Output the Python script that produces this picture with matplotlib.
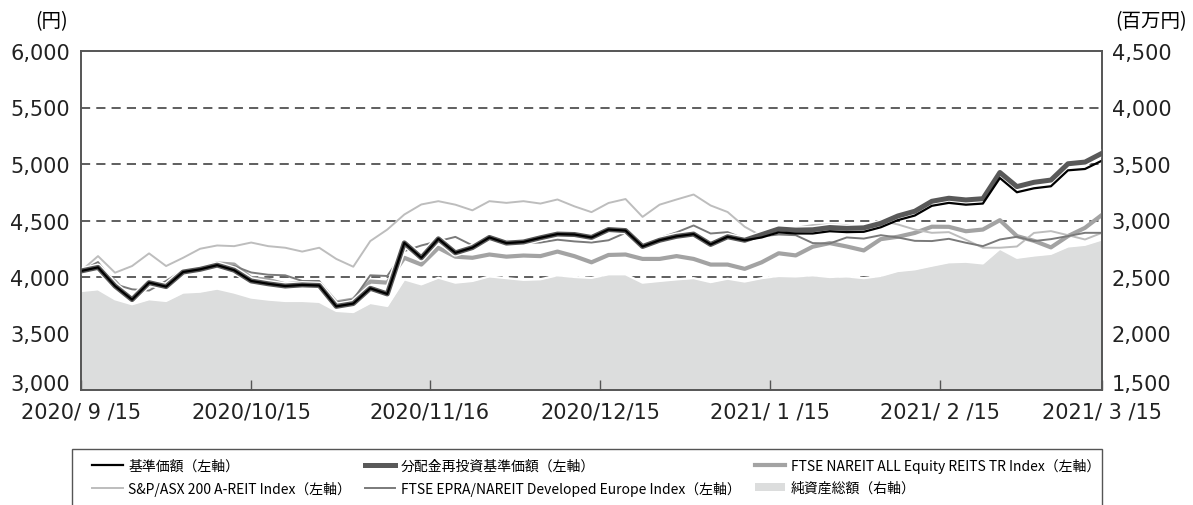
import numpy as np
import matplotlib
matplotlib.use("Agg")
import matplotlib.pyplot as plt
import matplotlib.patheffects as pe
import matplotlib.transforms as mtransforms
from matplotlib.lines import Line2D
from matplotlib.patches import Patch, Rectangle

plt.rcParams['font.family'] = ['Noto Sans CJK JP', 'DejaVu Sans']

# trading-day index (every other business day, 2020/9/15 .. 2021/3/15)
day_idx = np.arange(0, 121, 2)

tick_pos = [0, 20, 41, 61, 81, 101, 120]
tick_labels = ['2020/ 9 /15', '2020/10/15', '2020/11/16', '2020/12/15',
               '2021/ 1 /15', '2021/ 2 /15', '2021/ 3 /15']

# 基準価額 (left axis, yen)
nav = [4053, 4085, 3920, 3800, 3950, 3915, 4044, 4068, 4105, 4060,
       3965, 3940, 3920, 3930, 3925, 3740, 3765, 3900, 3850, 4302,
       4170, 4338, 4214, 4260, 4350, 4300, 4310, 4347, 4380, 4376,
       4350, 4420, 4411, 4270, 4325, 4360, 4380, 4288, 4356, 4325,
       4350, 4395, 4385, 4385, 4405, 4397, 4400, 4440, 4503, 4544,
       4630, 4656, 4640, 4650, 4876, 4750, 4785, 4803, 4944, 4956,
       5030]

# 分配金再投資基準価額
nav_reinv = [4053, 4085, 3920, 3800, 3950, 3915, 4044, 4068, 4105, 4060,
             3965, 3940, 3920, 3930, 3925, 3740, 3765, 3900, 3850, 4302,
             4170, 4338, 4214, 4260, 4350, 4300, 4310, 4347, 4380, 4376,
             4350, 4420, 4411, 4270, 4325, 4360, 4380, 4288, 4356, 4325,
             4375, 4425, 4415, 4418, 4438, 4430, 4435, 4475, 4540, 4582,
             4670, 4697, 4682, 4693, 4925, 4800, 4838, 4858, 5002, 5017,
             5095]

# FTSE NAREIT ALL Equity REITS TR Index
us_reit = [4050, 4080, 3960, 3790, 3930, 3920, 4030, 4075, 4120, 4110,
           3990, 3975, 3935, 3950, 3945, 3775, 3800, 3960, 3950, 4170,
           4110, 4258, 4180, 4170, 4199, 4180, 4190, 4185, 4225, 4184,
           4130, 4195, 4199, 4160, 4160, 4185, 4160, 4110, 4110, 4072,
           4130, 4210, 4191, 4268, 4300, 4270, 4235, 4335, 4356, 4390,
           4445, 4444, 4405, 4420, 4503, 4362, 4320, 4262, 4362, 4435,
           4550]

# S&P/ASX 200 A-REIT Index
au_reit = [4053, 4185, 4038, 4097, 4209, 4097, 4170, 4250, 4279, 4273,
           4305, 4273, 4259, 4225, 4259, 4160, 4091, 4318, 4420, 4553,
           4642, 4671, 4640, 4590, 4671, 4656, 4671, 4650, 4686, 4625,
           4574, 4655, 4690, 4532, 4640, 4686, 4730, 4633, 4575, 4445,
           4362, 4400, 4435, 4460, 4465, 4460, 4425, 4500, 4465, 4420,
           4391, 4397, 4330, 4259, 4259, 4270, 4390, 4406, 4370, 4332,
           4391]

# FTSE EPRA/NAREIT Developed Europe Index
eu_reit = [4053, 4132, 3935, 3891, 3880, 3965, 4060, 4068, 4082, 4097,
           4040, 4020, 4015, 3965, 3965, 3774, 3800, 4015, 4009, 4229,
           4279, 4317, 4355, 4280, 4325, 4325, 4302, 4305, 4330, 4315,
           4305, 4325, 4391, 4267, 4345, 4395, 4456, 4385, 4397, 4338,
           4360, 4376, 4370, 4300, 4297, 4350, 4340, 4370, 4350, 4320,
           4318, 4338, 4303, 4273, 4332, 4356, 4318, 4335, 4362, 4391,
           4391]

# 純資産総額 (right axis, million yen)
net_assets = [2376, 2391, 2303, 2259, 2303, 2288, 2362, 2370, 2397, 2362,
              2318, 2300, 2288, 2288, 2280, 2200, 2190, 2270, 2244, 2479,
              2435, 2494, 2450, 2465, 2505, 2490, 2475, 2480, 2515, 2500,
              2492, 2524, 2524, 2450, 2465, 2479, 2490, 2455, 2485, 2460,
              2490, 2509, 2505, 2515, 2500, 2505, 2490, 2510, 2553, 2568,
              2600, 2630, 2635, 2620, 2750, 2670, 2690, 2705, 2770, 2785,
              2832]

W, H = 1193, 506
fig = plt.figure(figsize=(W / 100, H / 100), dpi=100)
ax = fig.add_axes([81 / W, 1 - 391 / H, 1021 / W, 339 / H])
ax2 = ax.twinx()
ax.set_zorder(ax2.get_zorder() + 1)
ax.patch.set_visible(False)

# right axis: net assets area and dashed grid behind it
for g in [2000, 2500, 3000, 3500, 4000]:
    ax2.axhline(g, color='#333333', lw=1.1, ls=(0, (6, 4)), zorder=0)
ax2.fill_between(day_idx, net_assets, 1500, color='#dcdddd', lw=0, zorder=1)
ax2.plot(day_idx, net_assets, color='white', lw=1.6, zorder=2)
ax2.set_ylim(1500, 4500)
ax2.set_yticks(np.arange(1500, 4501, 500))
ax2.set_yticklabels([f'{v:,}' for v in range(1500, 4501, 500)])

# left axis lines
ax.plot(day_idx, us_reit, color='#a3a3a3', lw=3.0)
ax.plot(day_idx, au_reit, color='#bdbdbd', lw=1.4)
ax.plot(day_idx, eu_reit, color='#7a7a7a', lw=1.4)
ax.plot(day_idx, nav_reinv, color='#595959', lw=3.6,
        path_effects=[pe.Stroke(linewidth=5.6, foreground='white'), pe.Normal()])
ax.plot(day_idx, nav, color='black', lw=1.6)

ax.set_xlim(0, 120)
ax.set_ylim(3000, 6000)
ax.set_yticks(np.arange(3000, 6001, 500))
ax.set_yticklabels([f'{v:,}' for v in range(3000, 6001, 500)])
ax.set_xticks(tick_pos)
ax.set_xticklabels(tick_labels)

for a in (ax, ax2):
    for s in a.spines.values():
        s.set_color('#555555')
        s.set_linewidth(1.2)
ax.tick_params(axis='y', length=0, pad=8, labelsize=15, labelcolor='#222222')
ax2.tick_params(axis='y', length=0, pad=7, labelsize=15, labelcolor='#222222')
ax.tick_params(axis='x', direction='in', length=7, width=1, color='#555555',
               pad=8, labelsize=15, labelcolor='#222222')
for lab in ax.get_yticklabels() + ax2.get_yticklabels() + ax.get_xticklabels():
    lab.set_family(['DejaVu Sans'])

# lift the lowest y labels a little off the date labels
lift = mtransforms.ScaledTranslation(0, 8 / 100, fig.dpi_scale_trans)
for lab in (ax.get_yticklabels()[0], ax2.get_yticklabels()[0]):
    lab.set_transform(lab.get_transform() + lift)

fig.text(52 / W, 1 - 22 / H, '(円)', ha='center', va='center', fontsize=14)
fig.text(1151 / W, 1 - 22 / H, '(百万円)', ha='center', va='center', fontsize=14)

# legend frame, open at the bottom edge of the picture
fig.patches.append(Rectangle((72 / W, -0.05), 1030 / W, 0.05 + 1 - 450 / H,
                             transform=fig.transFigure, fill=False,
                             edgecolor='#555555', lw=1.0))

# legend (column-major order for 2 rows x 3 columns)
handles = [
    Line2D([], [], color='black', lw=1.6),
    Line2D([], [], color='#bdbdbd', lw=1.4),
    Line2D([], [], color='#595959', lw=3.6),
    Line2D([], [], color='#7a7a7a', lw=1.4),
    Line2D([], [], color='#a3a3a3', lw=3.0),
    Patch(facecolor='#dcdddd', edgecolor='none'),
]
labels = ['基準価額（左軸）', 'S&P/ASX 200 A-REIT Index（左軸）',
          '分配金再投資基準価額（左軸）', 'FTSE EPRA/NAREIT Developed Europe Index（左軸）',
          'FTSE NAREIT ALL Equity REITS TR Index（左軸）', '純資産総額（右軸）']
leg = fig.legend(handles, labels, ncol=3, loc='upper left',
                 bbox_to_anchor=(92 / W, 1 - 459 / H),
                 fontsize=10, frameon=False,
                 handlelength=2.2, handleheight=0.55,
                 handletextpad=0.4, labelspacing=0.55, columnspacing=1.0,
                 borderpad=0, borderaxespad=0)

fig.savefig('out.png', dpi=100)
